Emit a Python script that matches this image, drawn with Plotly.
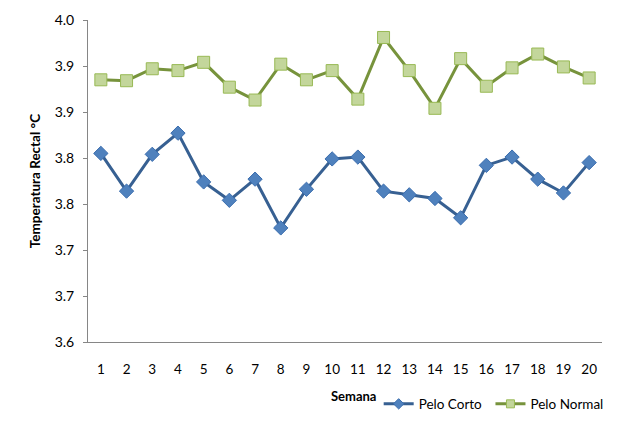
import plotly.graph_objects as go

semanas = list(range(1, 21))
pelo_corto = [3.855, 3.814, 3.854, 3.877, 3.824, 3.804, 3.827, 3.774, 3.816, 3.849,
              3.851, 3.814, 3.810, 3.806, 3.785, 3.842, 3.851, 3.827, 3.812, 3.845]
pelo_normal = [3.935, 3.934, 3.947, 3.945, 3.954, 3.927, 3.913, 3.952, 3.935, 3.945,
               3.914, 3.981, 3.945, 3.904, 3.958, 3.928, 3.948, 3.963, 3.949, 3.937]
y_tickvals = [3.65, 3.70, 3.75, 3.80, 3.85, 3.90, 3.95, 4.00]
y_ticktext = ["3.6", "3.7", "3.7", "3.8", "3.8", "3.9", "3.9", "4.0"]

FONT = "Lato"

series = [
    ("Pelo Corto", pelo_corto, "#376092", "diamond", 11, 8, "#4F81BD", "#3A6DAE", "legend"),
    ("Pelo Normal", pelo_normal, "#77933C", "square", 12, 8, "#C3D69B", "#98B954", "legend2"),
]

fig = go.Figure()
for name, vals, lc, sym, msize, lsize, mfill, mline, lg in series:
    fig.add_trace(go.Scatter(
        x=semanas, y=vals, name=name, mode="lines+markers", showlegend=False,
        line=dict(color=lc, width=3),
        marker=dict(symbol=sym, size=msize, color=mfill, line=dict(color=mline, width=1)),
        cliponaxis=False,
    ))
for name, vals, lc, sym, msize, lsize, mfill, mline, lg in series:
    fig.add_trace(go.Scatter(
        x=[None], y=[None], name=name, mode="lines+markers", showlegend=True, legend=lg,
        line=dict(color=lc, width=3),
        marker=dict(symbol=sym, size=lsize, color=mfill, line=dict(color=mline, width=1)),
    ))

legend_common = dict(orientation="h", xref="container", yref="container",
                     y=0.069, xanchor="left", yanchor="middle",
                     font=dict(family=FONT, size=13.5), itemwidth=30,
                     bgcolor="rgba(0,0,0,0)")

fig.update_layout(
    width=628, height=434,
    margin=dict(l=88, r=26, t=20, b=92, autoexpand=False),
    paper_bgcolor="white", plot_bgcolor="white",
    font=dict(family=FONT, size=13, color="black"),
    showlegend=True,
    legend=dict(x=0.603, **legend_common),
    legend2=dict(x=0.781, **legend_common),
    xaxis=dict(range=[0.5, 20.5], tickvals=semanas, ticktext=[str(s) for s in semanas],
               showgrid=False, zeroline=False, showline=True, linecolor="#868686", linewidth=1,
               ticks="", ticklabelstandoff=15, tickfont=dict(size=13.5)),
    yaxis=dict(range=[3.65, 4.0], tickvals=y_tickvals, ticktext=y_ticktext,
               showgrid=False, zeroline=False, showline=True, linecolor="#868686", linewidth=1,
               ticks="outside", ticklen=4, tickcolor="#868686", tickfont=dict(size=14),
               ticklabelstandoff=6,
               title=dict(text="<b>Temperatura Rectal °C</b>", font=dict(size=13.5), standoff=10)),
    annotations=[dict(text="<b>Semana</b>", x=0.5156, y=-0.168, xref="paper", yref="paper",
                      showarrow=False, font=dict(size=13), xanchor="center", yanchor="middle")],
)

fig.write_html("out.html")
